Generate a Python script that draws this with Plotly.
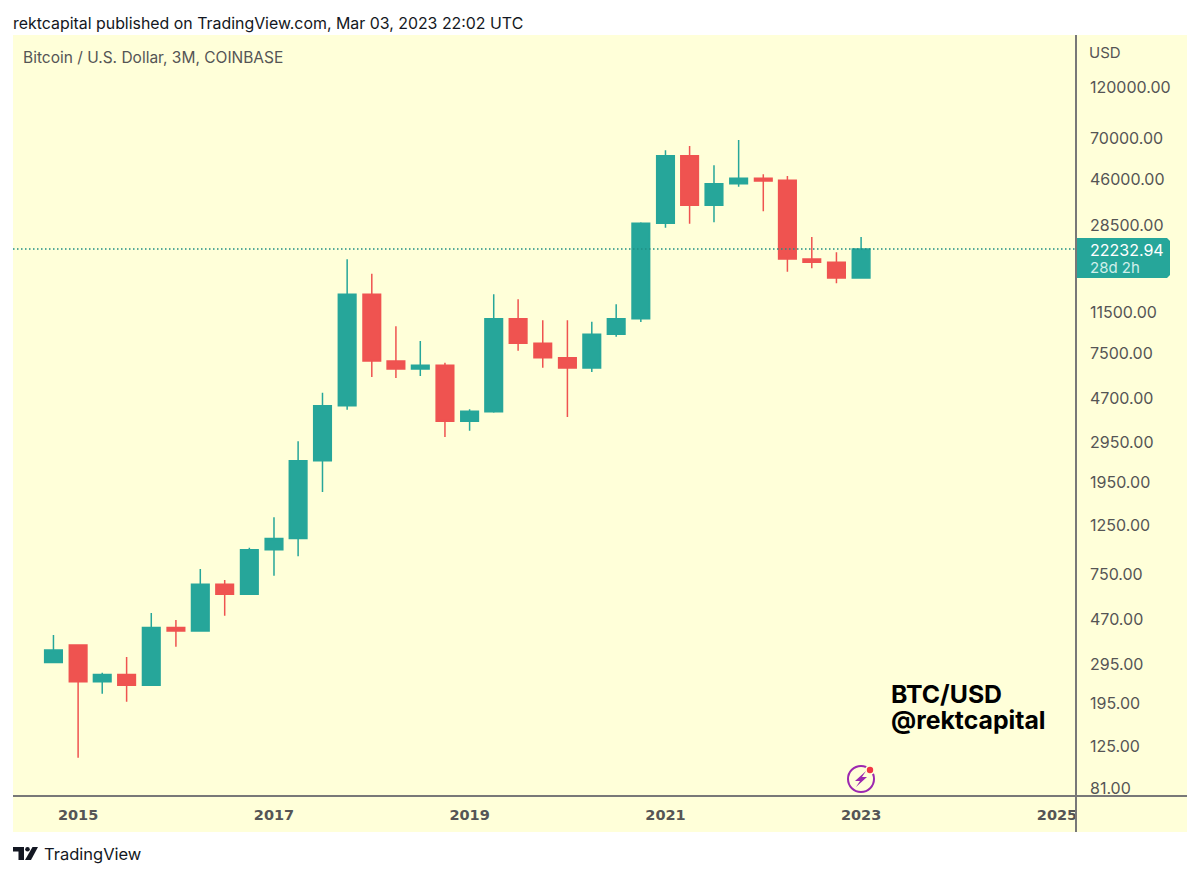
# -*- coding: utf-8 -*-
"""Bitcoin / U.S. Dollar quarterly candles on a log scale, TradingView look."""
import plotly.graph_objects as go

# ---------------------------------------------------------------------------
# Data
# ---------------------------------------------------------------------------
quarters = [
    '2014-10-01', '2015-01-01', '2015-04-01', '2015-07-01', '2015-10-01',
    '2016-01-01', '2016-04-01', '2016-07-01', '2016-10-01',
    '2017-01-01', '2017-04-01', '2017-07-01', '2017-10-01',
    '2018-01-01', '2018-04-01', '2018-07-01', '2018-10-01',
    '2019-01-01', '2019-04-01', '2019-07-01', '2019-10-01',
    '2020-01-01', '2020-04-01', '2020-07-01', '2020-10-01',
    '2021-01-01', '2021-04-01', '2021-07-01', '2021-10-01',
    '2022-01-01', '2022-04-01', '2022-07-01', '2022-10-01',
    '2023-01-01',
]
opens = [299, 359, 245, 264, 236, 431, 416, 676, 609, 969, 1089, 2449, 4342,
         13850, 6920, 6364, 6613, 3692, 4080, 10750, 8320, 7160, 6430, 9135,
         10750, 29020, 58700, 35000, 43830, 46370, 45420, 20010, 19330, 16420]
highs = [399, 359, 269, 317, 501, 466, 793, 707, 990, 1358, 2997, 4970, 19950,
         17170, 9930, 8520, 6795, 4182, 13850, 13150, 10570, 10570, 10410,
         12480, 29320, 62100, 64900, 53100, 69100, 48340, 47500, 25160, 21450,
         25160]
lows = [299, 111, 216, 199, 236, 353, 416, 487, 609, 739, 905, 1768, 4165,
        5855, 5794, 5917, 3135, 3347, 4037, 7700, 6450, 3860, 6170, 8905,
        10380, 27720, 28900, 29320, 42490, 32890, 17530, 18170, 15540, 16420]
closes = [341, 245, 264, 236, 431, 416, 676, 609, 969, 1089, 2449, 4342, 13850,
          6920, 6364, 6613, 3692, 4097, 10750, 8320, 7160, 6430, 9135, 10750,
          29020, 58700, 35000, 43830, 46370, 45080, 20010, 19330, 16420,
          22232.94]

price_ticks = [81, 125, 195, 295, 470, 750, 1250, 1950, 2950, 4700, 7500,
               11500, 28500, 46000, 70000, 120000]
year_ticks = ['2015', '2017', '2019', '2021', '2023', '2025']
last_price = 22232.94
countdown = '28d 2h'

GREEN = '#26A69A'
RED = '#EF5350'
YELLOW = '#FFFFD9'
AXIS = '#787878'
TEXT = '#555555'
FONT = 'Inter, Liberation Sans, sans-serif'

# plot area in page pixels; the default page has an 8px body margin
BODY = 8
PAGE_W, PAGE_H = 1200, 877
LEFT, RIGHT, TOP, BOTTOM = 13, 1076, 35, 796


def px_x(x):
    return (x - LEFT) / (RIGHT - LEFT)


def px_y(y):
    return (BOTTOM - y) / (BOTTOM - TOP)


def path(points, close=True):
    """SVG path in paper coordinates from page pixels."""
    d = ' '.join(('M' if i == 0 else 'L') + f'{px_x(x):.5f},{px_y(y):.5f}'
                 for i, (x, y) in enumerate(points))
    return d + (' Z' if close else '')


def rect(x0, y0, x1, y1, color):
    return dict(type='rect', xref='paper', yref='paper', layer='below',
                x0=px_x(x0), x1=px_x(x1), y0=px_y(y0), y1=px_y(y1),
                fillcolor=color, line=dict(width=0))


def poly(points, color):
    return dict(type='path', xref='paper', yref='paper', path=path(points),
                fillcolor=color, line=dict(width=0))


def circle(cx, cy, r, fill, line_color=None, width=0):
    return dict(type='circle', xref='paper', yref='paper',
                x0=px_x(cx - r), x1=px_x(cx + r), y0=px_y(cy + r), y1=px_y(cy - r),
                fillcolor=fill, line=dict(color=line_color, width=width))


def label(x, y, text, size, color=TEXT, weight=400):
    return dict(x=px_x(x), y=px_y(y), xref='paper', yref='paper', text=text,
                showarrow=False, xanchor='left', yanchor='middle',
                xshift=-2,
                font=dict(family=FONT, size=size, color=color, weight=weight))


# ---------------------------------------------------------------------------
# Figure
# ---------------------------------------------------------------------------
fig = go.Figure()

fig.add_trace(go.Scatter(
    x=['2014-05-03', '2025-03-13'], y=[last_price, last_price], mode='lines',
    line=dict(color='#1F8F84', width=1.5, dash='1.5px,2.5px'),
    showlegend=False, hoverinfo='skip',
))

fig.add_trace(go.Candlestick(
    x=quarters, open=opens, high=highs, low=lows, close=closes,
    increasing=dict(line=dict(color=GREEN, width=1.5), fillcolor=GREEN),
    decreasing=dict(line=dict(color=RED, width=1.5), fillcolor=RED),
    whiskerwidth=0, showlegend=False,
))

shapes = [
    rect(13, 35, 1187, 832, YELLOW),
    # price tag of the last bar
    dict(type='path', xref='paper', yref='paper',
         path=path([(1076, 238), (1167, 238), (1170, 241), (1170, 275),
                    (1167, 278), (1076, 278)]),
         fillcolor=GREEN, line=dict(width=0)),
    # axis lines
    dict(type='line', xref='paper', yref='paper', x0=px_x(13), x1=px_x(1187),
         y0=px_y(796), y1=px_y(796), line=dict(color=AXIS, width=2)),
    dict(type='line', xref='paper', yref='paper', x0=px_x(1076), x1=px_x(1076),
         y0=px_y(35), y1=px_y(832), line=dict(color=AXIS, width=2)),
    # lightning badge
    circle(861, 779, 13, 'rgba(0,0,0,0)', '#9C27B0', 2),
    circle(870, 770, 5, YELLOW),
    circle(870, 770, 3.2, '#F23645'),
    poly([(866, 771), (855, 781), (860, 781), (856, 787), (867, 777),
          (862, 777)], '#9C27B0'),
    # TradingView logo
    poly([(13, 847), (24, 847), (24, 860), (18.5, 860), (18.5, 851.5),
          (13, 851.5)], '#131722'),
    circle(27.5, 849.3, 2.3, '#131722'),
    poly([(32.5, 847), (38, 847), (31, 860), (25, 860)], '#131722'),
]

annotations = [
    label(13, 23, 'rektcapital published on TradingView.com, Mar 03, 2023 22:02 UTC',
          15.9, '#131722'),
    label(23, 58, 'Bitcoin / U.S. Dollar, 3M, COINBASE', 15.5),
    label(1089, 52, 'USD', 15),
    label(1090, 250, f'{last_price:.2f}', 16, '#FFFFFF'),
    label(1090, 267, countdown, 15, '#CFEFEA'),
    label(891, 694, 'BTC/USD', 24.8, '#000000', 700),
    label(891, 720, '@rektcapital', 24.8, '#000000', 700),
    label(44, 854, 'TradingView', 16.5, '#131722'),
]

fig.update_layout(
    width=PAGE_W - 2 * BODY,
    height=PAGE_H - 2 * BODY,
    margin=dict(l=LEFT - BODY, r=PAGE_W - BODY - RIGHT, t=TOP - BODY,
                b=PAGE_H - BODY - BOTTOM, autoexpand=False),
    paper_bgcolor='white',
    plot_bgcolor=YELLOW,
    boxgap=0.27,
    boxgroupgap=0,
    showlegend=False,
    shapes=shapes,
    annotations=annotations,
    xaxis=dict(
        type='date',
        range=['2014-05-03', '2025-03-13'],
        rangeslider=dict(visible=False),
        showgrid=False,
        zeroline=False,
        tickmode='array',
        tickvals=[y + '-01-01' for y in year_ticks],
        ticktext=year_ticks,
        ticks='',
        tickfont=dict(family='DejaVu Sans', size=14.5, color=TEXT, weight=700),
        ticklabelstandoff=8,
    ),
    yaxis=dict(
        type='log',
        side='right',
        range=[1.8724, 5.3144],
        showgrid=False,
        zeroline=False,
        tickmode='array',
        tickvals=price_ticks,
        ticktext=[f'{p:.2f}' for p in price_ticks],
        ticks='',
        tickfont=dict(family=FONT, size=16, color=TEXT),
        ticklabelstandoff=13,
    ),
)

fig.write_html("out.html")
